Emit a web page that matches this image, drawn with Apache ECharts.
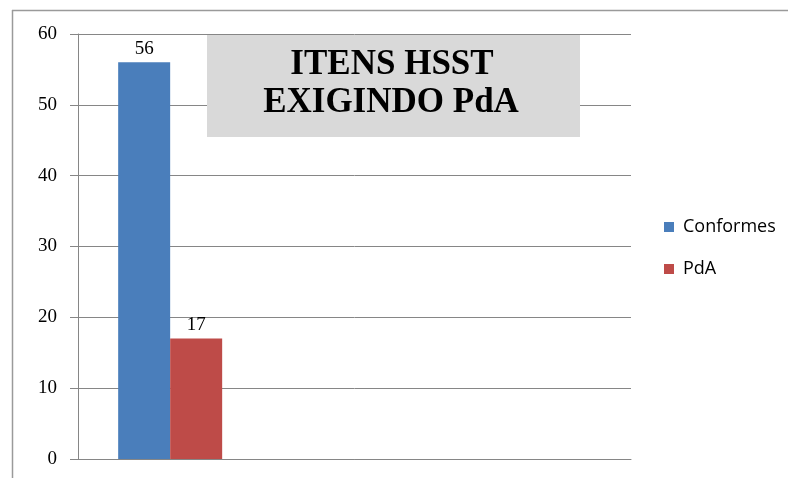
<!DOCTYPE html>
<html><head><meta charset="utf-8">
<script src="https://cdn.jsdelivr.net/npm/echarts@6/dist/echarts.min.js"></script>
<style>html,body{margin:0;padding:0;background:#fff}#c{width:788px;height:478px}</style>
</head><body><div id="c"></div>
<script>
const categories = ['', '', ''];
const conformes = [56, null, null];
const pda = [17, null, null];
const yTicks = { min: 0, max: 60, interval: 10 };
const titleLines = ['ITENS HSST', 'EXIGINDO PdA'];

const chart = echarts.init(document.getElementById('c'));
const labelStyle = { show: true, position: 'top', fontFamily: 'Liberation Serif', fontSize: 19, color: '#000', distance: 4 };
chart.setOption({
  animation: false,
  backgroundColor: '#fff',
  grid: { left: 78, right: 157, top: 34, bottom: 19 },
  legend: {
    orient: 'vertical', left: 659, top: 213, itemWidth: 10, itemHeight: 10, itemGap: 24,
    icon: 'rect',
    textStyle: { fontFamily: 'Open Sans', fontSize: 18, color: '#000', padding: [0, 0, 0, 4] },
    data: ['Conformes', 'PdA']
  },
  xAxis: {
    type: 'category', data: categories,
    axisLine: { lineStyle: { color: '#868686' } },
    axisTick: { show: false }, axisLabel: { show: false }
  },
  yAxis: {
    type: 'value', min: yTicks.min, max: yTicks.max, interval: yTicks.interval,
    axisLine: { show: true, lineStyle: { color: '#868686' } },
    axisTick: { show: true, length: 8, lineStyle: { color: '#868686' } },
    splitLine: { lineStyle: { color: '#868686' } },
    axisLabel: { fontFamily: 'Liberation Serif', fontSize: 19, color: '#000', margin: 21 }
  },
  series: [
    { name: 'Conformes', type: 'bar', data: conformes, barWidth: 52, barGap: '0%', itemStyle: { color: '#4a7ebb' }, label: labelStyle },
    { name: 'PdA', type: 'bar', data: pda, barWidth: 52, barGap: '0%', itemStyle: { color: '#be4b48' }, label: labelStyle }
  ],
  graphic: [
    { type: 'line', shape: { x1: 12, y1: 10.5, x2: 788, y2: 10.5 }, style: { stroke: '#9a9a9a', lineWidth: 1.5 } },
    { type: 'line', shape: { x1: 12.5, y1: 10, x2: 12.5, y2: 478 }, style: { stroke: '#9a9a9a', lineWidth: 1.5 } },
    { type: 'rect', shape: { x: 207, y: 35, width: 373, height: 102 }, style: { fill: '#d9d9d9' }, z: 100 },
    { type: 'text', x: 392, y: 65, z: 101, style: { text: titleLines[0], fontFamily: 'Liberation Serif', fontWeight: 'bold', fontSize: 35, fill: '#000', align: 'center', verticalAlign: 'middle' } },
    { type: 'text', x: 391, y: 103, z: 101, style: { text: titleLines[1], fontFamily: 'Liberation Serif', fontWeight: 'bold', fontSize: 35, fill: '#000', align: 'center', verticalAlign: 'middle' } }
  ]
});
</script></body></html>
